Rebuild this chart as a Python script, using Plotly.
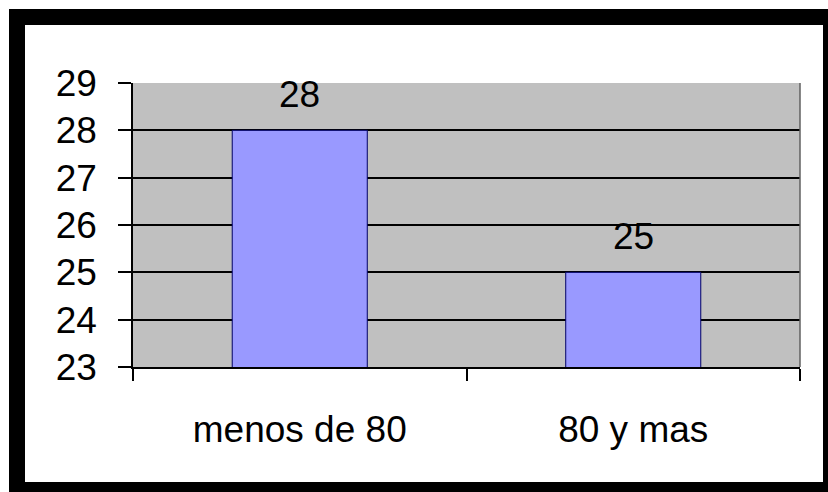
import plotly.graph_objects as go

categories = ["menos de 80", "80 y mas"]
values = [28, 25]
y_ticks = [23, 24, 25, 26, 27, 28, 29]

W, H = 828, 492
L, R, T, B = 133, 800, 83, 367  # plot area in pixels

def px(x):
    return (x - L) / (R - L)

def py(y):
    return (B - y) / (B - T)

fig = go.Figure()
fig.add_trace(go.Bar(
    x=categories, y=values,
    marker=dict(color="#9999FF", line=dict(color="#000066", width=1)),
    width=0.405,
    hoverinfo="skip",
))

for c, v in zip(categories, values):
    fig.add_annotation(x=c, y=v, text=str(v), showarrow=False,
                       yanchor="bottom", yshift=13,
                       font=dict(size=37, color="black", family="Liberation Sans, Arial"))

shapes = []
for (x0, y0, x1, y1) in [(9, 9, 828, 25), (9, 9, 25, 492), (823, 9, 828, 492), (9, 482, 828, 492)]:
    shapes.append(dict(type="rect", xref="paper", yref="paper",
                       x0=px(x0), x1=px(x1), y0=py(y0), y1=py(y1),
                       fillcolor="black", line=dict(width=0), layer="above"))
shapes.append(dict(type="line", xref="paper", yref="paper", x0=1, x1=1, y0=0, y1=1,
                   line=dict(color="#606060", width=1.5), layer="above"))
fig.update_layout(shapes=shapes)

fig.update_layout(
    width=W, height=H,
    margin=dict(l=L, r=W - R, t=T, b=H - B, pad=0),
    paper_bgcolor="white",
    plot_bgcolor="#C0C0C0",
    showlegend=False,
    font=dict(family="Liberation Sans, Arial", size=37, color="black"),
    xaxis=dict(
        type="category",
        tickson="boundaries",
        ticks="outside", ticklen=12, tickcolor="black", tickwidth=1.5,
        showline=True, linecolor="black", linewidth=1.5,
        showgrid=False,
        ticklabelstandoff=29,
        tickfont=dict(size=37),
        range=[-0.5, 1.5],
    ),
    yaxis=dict(
        range=[23, 29],
        tickvals=y_ticks,
        ticks="outside", ticklen=13, tickcolor="black", tickwidth=1.5,
        showline=True, linecolor="black", linewidth=1.5,
        showgrid=True, gridcolor="black", gridwidth=1.5,
        zeroline=False,
        ticklabelstandoff=14,
        tickfont=dict(size=37),
    ),
)

fig.write_html("out.html")
